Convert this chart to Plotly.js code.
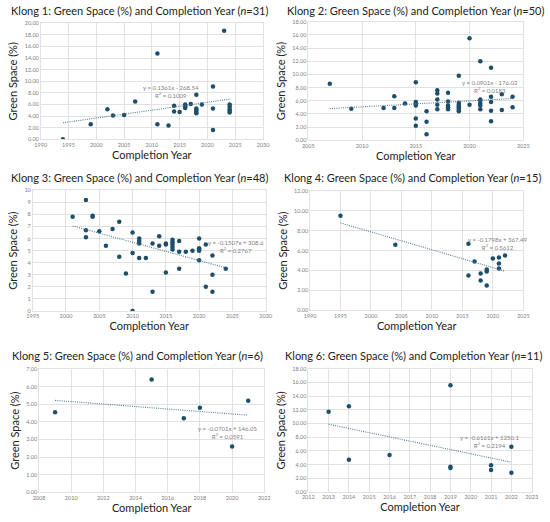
<!DOCTYPE html>
<html>
<head>
<meta charset="utf-8">
<script src="https://cdn.plot.ly/plotly-3.0.1.min.js"></script>
<style>html,body{margin:0;padding:0;background:#fff}#chart{width:550px;height:522px}</style>
</head>
<body>
<div id="chart"></div>
<script>
// ---- Data ----
const k1Year = [1994,1999,2002,2003,2005,2007,2011,2011,2013,2014,2014,2015,2016,2016,2016,2017,2018,2018,2018,2018,2018,2019,2021,2021,2021,2023,2024,2024,2024,2024,2024];
const k1Green = [0.0,2.6,5.2,4.1,4.2,6.5,14.8,2.6,2.4,5.8,4.8,4.7,6.0,5.7,5.4,6.1,7.7,5.3,5.0,4.7,4.5,6.0,9.1,5.3,1.6,18.7,6.0,5.6,5.2,4.9,4.6];

const k2Year = [2007,2009,2012,2013,2013,2014,2015,2015,2015,2015,2015,2015,2016,2016,2016,2017,2017,2017,2017,2017,2018,2018,2018,2018,2018,2019,2019,2019,2019,2019,2019,2019,2019,2020,2020,2021,2021,2021,2021,2021,2021,2022,2022,2022,2022,2022,2023,2023,2024,2024];
const k2Green = [8.6,4.8,4.9,6.7,4.9,5.6,8.8,5.8,5.6,5.3,3.3,2.2,4.4,2.8,0.9,7.6,7.1,6.2,5.4,4.7,7.2,5.9,5.3,5.0,4.7,9.8,5.7,5.4,5.2,5.0,4.8,4.6,4.4,15.5,5.4,12.0,6.2,6.0,5.6,5.3,4.7,11.0,6.6,5.8,4.5,2.9,7.0,4.6,6.6,5.0];

const k3Year = [2001,2003,2003,2003,2004,2004,2005,2006,2007,2008,2008,2009,2010,2010,2010,2011,2011,2011,2011,2012,2013,2013,2014,2014,2015,2015,2015,2016,2016,2016,2016,2016,2017,2017,2017,2018,2019,2020,2020,2020,2020,2020,2021,2021,2022,2022,2022,2024];
const k3Green = [7.8,9.2,6.7,6.1,7.9,7.8,6.6,5.4,6.8,7.4,4.5,3.1,6.5,4.8,0.0,6.0,5.8,5.6,4.4,4.4,5.6,1.6,6.2,5.4,5.6,5.5,3.2,5.9,5.7,5.5,5.3,5.1,5.8,4.9,3.5,4.9,5.0,6.0,5.2,5.1,5.0,4.2,5.5,2.0,4.6,3.0,1.6,3.5];

const k4Year = [1995,2004,2016,2016,2017,2018,2018,2019,2019,2019,2020,2021,2021,2021,2022];
const k4Green = [9.5,6.6,6.7,3.5,4.9,3.7,3.0,4.1,3.9,2.5,5.2,5.3,4.7,4.2,5.5];

const k5Year = [2009,2015,2017,2018,2020,2021];
const k5Green = [4.55,6.4,4.2,4.8,2.6,5.2];

const k6Year = [2013,2014,2014,2016,2019,2019,2019,2021,2021,2022,2022];
const k6Green = [11.7,12.5,4.7,5.4,15.6,3.7,3.5,3.9,3.2,6.6,2.8];

// Trendline coefficients as printed on the chart (slope, intercept)
const trendSlope = [0.1361, 0.0901, -0.1507, -0.1798, -0.0701, -0.6161];
const trendIntercept = [-268.54, -176.02, 308.6, 367.49, 146.05, 1250.1];
const trendR2 = ['0.1009','0.0183','0.2767','0.5612','0.0591','0.2194'];
const eqText = ['y = 0.1361x - 268.54','y = 0.0901x - 176.02','y = -0.1507x + 308.6','y = -0.1798x + 367.49','y = -0.0701x + 146.05','y = -0.6161x + 1250.1'];
const nCount = [31,50,48,15,6,11];

const years = [k1Year,k2Year,k3Year,k4Year,k5Year,k6Year];
const greens = [k1Green,k2Green,k3Green,k4Green,k5Green,k6Green];

// Axis settings per panel
const xRanges = [[1990,2030],[2005,2025],[1995,2030],[1990,2025],[2008,2022],[2012,2023]];
const xDtick = [5,5,5,5,2,1];
const yRanges = [[0,20],[0,18],[0,10],[0,12],[0,7],[0,18]];
const yDtick = [2,2,1,2,1,2];
const yFormat = ['.2f','.2f','d','.2f','.2f','.2f'];
const eqPos = [[2013.5,8.2],[2021.9,8.2],[2025.5,5.35],[2020.7,6.75],[2019.7,3.42],[2020.9,7.4]];

// ---- Layout geometry (pixels) ----
const W = 550, H = 522;
const boxes = [ // [left, right, top, bottom]
  [40.7,263,23.3,139.3],
  [308.3,523.3,21.7,140.3],
  [32.7,265.7,190.3,311],
  [310,523.3,191,310.3],
  [39,264.3,369,492.3],
  [308.3,531.7,368.7,492]
];
const titleX = [139, 415, 140, 412, 137, 413];
const titleY = [10, 10, 177, 177, 355, 355];

const markerColor = '#1d4e6b';
const trendColor = '#4f7f8f';
const gridColor = '#d9d9d9';
const tickColor = '#808080';
const FONT = 'Lato, Noto Sans, sans-serif';

const traces = [];
const layout = {
  width: W, height: H,
  margin: {l:0,r:0,t:0,b:0},
  paper_bgcolor: '#fff', plot_bgcolor: '#fff',
  showlegend: false,
  font: {family: FONT},
  annotations: []
};

for (let i = 0; i < 6; i++) {
  const s = i === 0 ? '' : String(i+1);
  const xa = 'x' + s, ya = 'y' + s;
  traces.push({
    type: 'scatter', mode: 'markers', x: years[i], y: greens[i],
    xaxis: xa, yaxis: ya,
    marker: {color: markerColor, size: 4.5}, hoverinfo: 'x+y'
  });
  const xs = [Math.min(...years[i]), Math.max(...years[i])];
  traces.push({
    type: 'scatter', mode: 'lines', x: xs,
    y: xs.map(v => trendSlope[i]*v + trendIntercept[i]),
    xaxis: xa, yaxis: ya,
    line: {color: trendColor, width: 1.1, dash: '1px,1.2px'}, hoverinfo: 'skip'
  });
  const b = boxes[i];
  const axCommon = {
    showgrid: true, gridcolor: gridColor, gridwidth: 0.8,
    zeroline: false, showline: true, mirror: true, linecolor: gridColor, linewidth: 0.8,
    ticks: '', tickfont: {size: 5.5, color: tickColor, family: FONT}
  };
  layout['xaxis' + s] = Object.assign({}, axCommon, {
    domain: [b[0]/W, b[1]/W], anchor: ya,
    range: xRanges[i], tickmode: 'linear', tick0: xRanges[i][0], dtick: xDtick[i],
    tickformat: 'd',
    title: {text: 'Completion Year', font: {size: 11, color: '#222', family: FONT}, standoff: 3}
  });
  layout['yaxis' + s] = Object.assign({}, axCommon, {
    domain: [1 - b[3]/H, 1 - b[2]/H], anchor: xa,
    range: yRanges[i], tickmode: 'linear', tick0: 0, dtick: yDtick[i],
    tickformat: yFormat[i],
    title: {text: 'Green Space (%)', font: {size: 11, color: '#222', family: FONT}, standoff: 4}
  });
  layout.annotations.push({
    xref: 'paper', yref: 'paper',
    x: titleX[i]/W, y: 1 - titleY[i]/H,
    xanchor: 'center', yanchor: 'middle', showarrow: false,
    text: 'Klong ' + (i+1) + ': Green Space (%) and Completion Year (<i>n</i>=' + nCount[i] + ')',
    font: {size: 11, color: '#222', family: FONT}
  });
  layout.annotations.push({
    xref: xa, yref: ya, x: eqPos[i][0], y: eqPos[i][1],
    xanchor: 'center', yanchor: 'middle', showarrow: false, align: 'center',
    text: eqText[i] + '<br>R<sup>2</sup> = ' + trendR2[i],
    font: {size: 6, color: tickColor, family: FONT}
  });
}

Plotly.newPlot('chart', traces, layout, {displayModeBar: false, staticPlot: true});
</script>
</body>
</html>
